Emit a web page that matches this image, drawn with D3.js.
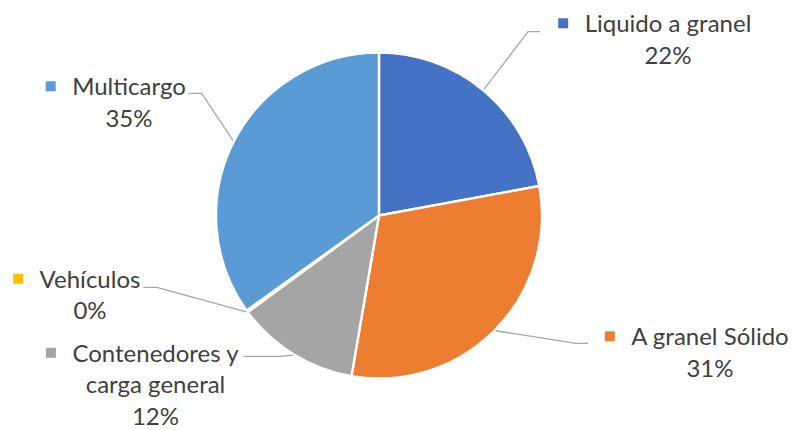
<!DOCTYPE html>
<html>
<head>
<meta charset="utf-8">
<script src="https://cdn.jsdelivr.net/npm/d3@7"></script>
<style>
  html, body { margin: 0; padding: 0; background: #fff; }
  svg { display: block; }
  text { font-family: "Lato", "Open Sans", sans-serif; fill: #404040; }
</style>
</head>
<body>
<svg id="chart" width="795" height="430"></svg>
<script>
// Cargo type shares (percent)
const categories = ["Liquido a granel", "A granel Sólido", "Contenedores y carga general", "Vehículos", "Multicargo"];
const values = [22.1, 30.6, 12.2, 0.2, 34.9];
const colors = ["#4472C4", "#ED7D31", "#A5A5A5", "#FFC000", "#5B9BD5"];
const labelLines = [["Liquido a granel"], ["A granel Sólido"], ["Contenedores y", "carga general"], ["Vehículos"], ["Multicargo"]];

// Label placement: text centre x, first baseline y, leader elbow and end
const labelLayout = [
  { cx: 668, y: 32, elbow: [528, 31.7], end: [540, 31.7] },
  { cx: 710, y: 345, elbow: [576, 343.3], end: [588, 343.3] },
  { cx: 155.5, y: 361.5, elbow: [280, 356.3], end: [243.5, 356.3] },
  { cx: 90, y: 287.5, elbow: [156.7, 287.3], end: [143.3, 287.3] },
  { cx: 129, y: 95, elbow: [201.7, 93.3], end: [188.3, 93.3] }
];

const width = 795, height = 430;
const cx = 379, cy = 215.5, radius = 163;
const fontSize = 24, lineHeight = 31.5;

const svg = d3.select("#chart");
const g = svg.append("g").attr("transform", `translate(${cx},${cy})`);

const data = categories.map((c, i) => ({ name: c, value: values[i], color: colors[i], lines: labelLines[i], layout: labelLayout[i] }));

const pie = d3.pie().value(d => d.value).sort(null);
const arcs = pie(data);
const arc = d3.arc().innerRadius(0).outerRadius(radius);

g.selectAll("path.slice")
  .data(arcs)
  .join("path")
  .attr("class", "slice")
  .attr("d", arc)
  .attr("fill", d => d.data.color)
  .attr("stroke", "#fff")
  .attr("stroke-width", 2.4)
  .attr("stroke-linejoin", "round");

// Leader lines from the rim at each slice's mid angle
const total = d3.sum(values);
arcs.forEach(a => {
  const mid = (a.startAngle + a.endAngle) / 2;
  const sx = cx + (radius + 1) * Math.sin(mid);
  const sy = cy - (radius + 1) * Math.cos(mid);
  const L = a.data.layout;
  svg.append("polyline")
    .attr("points", [[sx, sy], L.elbow, L.end].map(p => p.join(",")).join(" "))
    .attr("fill", "none")
    .attr("stroke", "#A6A6A6")
    .attr("stroke-width", 1.3);
});

// Data labels: category name, percentage, and a colour key
arcs.forEach(a => {
  const L = a.data.layout;
  const lines = a.data.lines.concat([Math.round(a.data.value / total * 100) + "%"]);
  const lg = svg.append("g");
  const texts = lg.selectAll("text")
    .data(lines)
    .join("text")
    .attr("x", L.cx)
    .attr("y", (d, i) => L.y + i * lineHeight)
    .attr("text-anchor", "middle")
    .attr("font-size", fontSize)
    .text(d => d);
  const w = texts.node().getComputedTextLength();
  lg.append("rect")
    .attr("x", L.cx - w / 2 - 16.5 - 10)
    .attr("y", L.y - 13.7)
    .attr("width", 10)
    .attr("height", 10)
    .attr("fill", a.data.color);
});
</script>
</body>
</html>
